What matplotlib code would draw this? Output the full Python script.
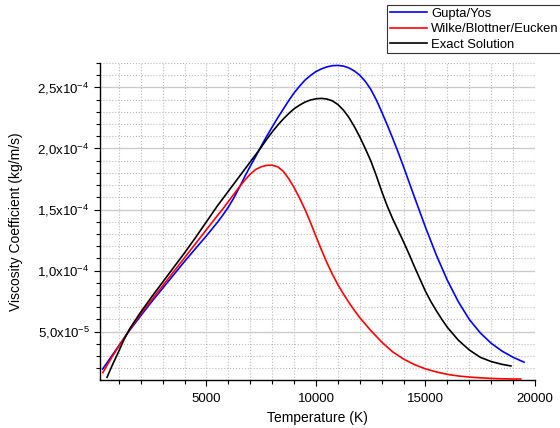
import matplotlib
matplotlib.use("Agg")
import matplotlib.pyplot as plt
from matplotlib.ticker import MultipleLocator, FuncFormatter
import numpy as np

plt.rcParams['font.family'] = ['Liberation Sans', 'DejaVu Sans']
plt.rcParams['mathtext.fontset'] = 'custom'
plt.rcParams['mathtext.rm'] = 'Liberation Sans'
plt.rcParams['mathtext.it'] = 'Liberation Sans'

# ---- data (viscosity in units of 1e-5 kg/m/s) ----
gupta_T = [260, 500, 750, 1000, 1450, 2000, 2500, 3000, 3500, 4000, 4500, 5000, 5500,
           5750, 6000, 6250, 6500, 6750, 7000, 7250, 7500, 7750, 8000, 8250, 8500,
           8750, 9000, 9250, 9500, 9750, 10000, 10250, 10500, 10750, 11000, 11250,
           11500, 11750, 12000, 12250, 12500, 12750, 13000, 13250, 13500, 13750,
           14000, 14500, 15000, 15500, 16000, 16500, 17000, 17500, 18000, 18500,
           19000, 19500]
gupta_mu = [1.94, 2.55, 3.2, 3.85, 5.0, 6.3, 7.45, 8.55, 9.65, 10.75, 11.8, 12.85, 13.95,
            14.55, 15.2, 15.95, 16.8, 17.7, 18.55, 19.35, 20.2, 21.0, 21.75, 22.5, 23.2,
            23.9, 24.55, 25.1, 25.6, 25.98, 26.3, 26.52, 26.68, 26.78, 26.8, 26.75,
            26.6, 26.35, 26.0, 25.5, 24.85, 24.0, 23.0, 21.95, 20.85, 19.7,
            18.5, 16.0, 13.55, 11.25, 9.2, 7.45, 6.0, 4.9, 4.05, 3.4,
            2.9, 2.5]

wilke_T = [270, 500, 750, 1000, 1450, 2000, 2500, 3000, 3500, 4000, 4500, 5000, 5500,
           5750, 6000, 6250, 6500, 6750, 7000, 7250, 7500, 7750, 8000, 8250, 8500,
           8750, 9000, 9250, 9500, 9750, 10000, 10250, 10500, 10750, 11000, 11250,
           11500, 11750, 12000, 12500, 13000, 13500, 14000, 14500, 15000, 15500,
           16000, 16500, 17000, 17500, 18000, 18500, 19000, 19350]
wilke_mu = [1.64, 2.35, 3.1, 3.8, 5.05, 6.45, 7.6, 8.75, 9.9, 11.05, 12.2, 13.35, 14.5,
            15.05, 15.65, 16.25, 16.85, 17.4, 17.9, 18.28, 18.5, 18.62, 18.63, 18.5, 18.15,
            17.55, 16.8, 15.95, 15.0, 13.95, 12.8, 11.7, 10.65, 9.7, 8.85, 8.1,
            7.4, 6.75, 6.15, 5.1, 4.15, 3.35, 2.75, 2.3, 1.95, 1.7,
            1.5, 1.37, 1.28, 1.22, 1.17, 1.14, 1.12, 1.12]

exact_T = [460, 700, 1000, 1250, 1500, 2000, 2500, 3000, 3500, 4000, 4500, 5000, 5500,
           6000, 6500, 7000, 7250, 7500, 7750, 8000, 8250, 8500, 8750, 9000, 9250,
           9500, 9750, 10000, 10250, 10500, 10750, 11000, 11250, 11500, 11750, 12000,
           12250, 12500, 12750, 13000, 13250, 13500, 13750, 14000, 14250, 14500,
           14750, 15000, 15250, 15500, 15750, 16000, 16500, 17000, 17500, 18000,
           18500, 18900]
exact_mu = [1.26, 2.25, 3.4, 4.4, 5.25, 6.6, 7.85, 9.05, 10.25, 11.45, 12.7, 14.0, 15.3,
            16.5, 17.7, 18.9, 19.5, 20.1, 20.75, 21.35, 21.9, 22.4, 22.85, 23.25, 23.55,
            23.8, 23.97, 24.07, 24.1, 24.05, 23.9, 23.6, 23.15, 22.55, 21.8, 20.95,
            20.0, 19.0, 17.8, 16.5, 15.3, 14.25, 13.3, 12.35, 11.35, 10.3,
            9.3, 8.3, 7.45, 6.7, 6.0, 5.35, 4.3, 3.5, 2.9, 2.55,
            2.32, 2.19]

labels = ["Gupta/Yos", "Wilke/Blottner/Eucken", "Exact Solution"]
colors = ["#0000ff", "#ff0000", "#000000"]

fig = plt.figure(figsize=(5.6, 4.28), dpi=100)
ax = fig.add_axes([100/560, 1-380/428, 435/560, 317/428])

series = [(gupta_T, gupta_mu), (wilke_T, wilke_mu), (exact_T, exact_mu)]
for (T, mu), lab, c in zip(series, labels, colors):
    ax.plot(T, np.array(mu) * 1e-5, color=c, lw=1.2, label=lab, zorder=3,
            solid_joinstyle='round')

ax.set_xlim(140, 20000)
ax.set_ylim(1.04e-5, 2.70e-4)

ax.xaxis.set_major_locator(MultipleLocator(5000))
ax.xaxis.set_minor_locator(MultipleLocator(1000))
ax.yaxis.set_major_locator(MultipleLocator(5e-5))
ax.yaxis.set_minor_locator(MultipleLocator(1e-5))

def yfmt(v, pos):
    if v <= 0:
        return ""
    exp = int(np.floor(np.log10(v) + 1e-9))
    mant = v / 10**exp
    s = ("%.1f" % mant).replace(".", ",")
    return s + r"x10$^{%d}$" % exp

ax.yaxis.set_major_formatter(FuncFormatter(yfmt))
ax.xaxis.set_major_formatter(FuncFormatter(lambda v, p: "%d" % v))

ax.tick_params(axis='both', which='major', direction='out', length=4, width=0.8,
               labelsize=9.5, colors='black')
ax.tick_params(axis='x', which='major', pad=5)
ax.tick_params(axis='both', which='minor', direction='out', length=3, width=0.8)

ax.grid(which='major', axis='y', color='#cccccc', lw=1.0, ls='-', zorder=0)
ax.grid(which='minor', axis='y', color='#bbbbbb', lw=0.8, ls=':', zorder=0)
ax.grid(which='both', axis='x', color='#bbbbbb', lw=0.8, ls=':', zorder=0)

for s in ['top', 'right']:
    ax.spines[s].set_visible(False)
for s in ['left', 'bottom']:
    ax.spines[s].set_linewidth(1.0)

ax.set_xlabel("Temperature (K)", fontsize=10)
ax.set_ylabel("Viscosity Coefficient (kg/m/s)", fontsize=10)
ax.xaxis.set_label_coords((317 - 100) / 435, -(411 - 380) / 317)
ax.yaxis.set_label_coords((23 - 100) / 435, 0.5)

leg = fig.legend(loc='upper left', bbox_to_anchor=(387/560, 1-5/428), fontsize=9.4,
                 frameon=True, fancybox=False, shadow=False, borderpad=0.2,
                 handlelength=2.9, handletextpad=0.3, labelspacing=0.25,
                 borderaxespad=0)
leg.get_frame().set_edgecolor('black')
leg.get_frame().set_linewidth(0.8)

fig.savefig("out.png", dpi=100)
